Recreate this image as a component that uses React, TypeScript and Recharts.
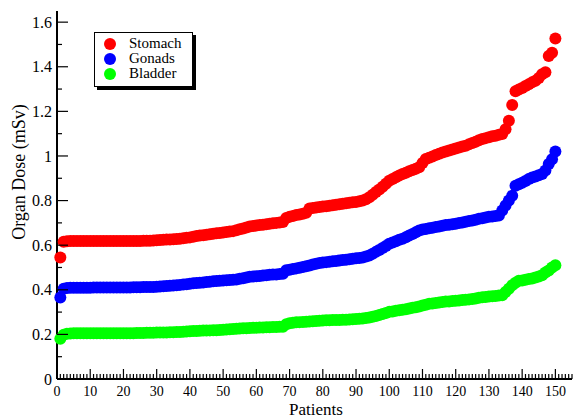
import React from 'react';
import { ScatterChart, Scatter, XAxis, YAxis, Label } from 'recharts';

// organ dose per patient (mSv), patients sorted by dose
const stomach = [
  0.545, 0.615, 0.618, 0.619, 0.619, 0.619, 0.619, 0.619, 0.619, 0.619,
  0.619, 0.619, 0.619, 0.619, 0.619, 0.619, 0.619, 0.619, 0.619, 0.619,
  0.619, 0.619, 0.619, 0.619, 0.619, 0.62, 0.62, 0.62, 0.621, 0.622,
  0.623, 0.624, 0.625, 0.626, 0.627, 0.628, 0.629, 0.631, 0.633, 0.635,
  0.638, 0.641, 0.643, 0.645, 0.647, 0.649, 0.651, 0.653, 0.655, 0.657,
  0.659, 0.661, 0.663, 0.667, 0.671, 0.675, 0.679, 0.684, 0.686, 0.688,
  0.69, 0.692, 0.694, 0.696, 0.698, 0.7, 0.702, 0.704, 0.722, 0.727,
  0.731, 0.735, 0.738, 0.741, 0.745, 0.764, 0.767, 0.769, 0.771, 0.773,
  0.775, 0.777, 0.779, 0.781, 0.783, 0.786, 0.788, 0.79, 0.792, 0.794,
  0.797, 0.8, 0.806, 0.815, 0.826, 0.838, 0.85, 0.862, 0.875, 0.889,
  0.897, 0.905, 0.912, 0.919, 0.925, 0.931, 0.937, 0.943, 0.949, 0.968,
  0.986, 0.992, 0.998, 1.004, 1.01, 1.016, 1.02, 1.025, 1.029, 1.033,
  1.038, 1.042, 1.046, 1.052, 1.058, 1.064, 1.07, 1.076, 1.08, 1.084,
  1.088, 1.091, 1.095, 1.098, 1.12, 1.158, 1.229, 1.29, 1.298, 1.305,
  1.314, 1.322, 1.33, 1.337, 1.35, 1.366, 1.375, 1.448, 1.463, 1.527,
];

const gonads = [
  0.365, 0.405, 0.408, 0.409, 0.409, 0.409, 0.409, 0.409, 0.409, 0.409,
  0.41, 0.41, 0.41, 0.41, 0.41, 0.41, 0.41, 0.41, 0.41, 0.41,
  0.41, 0.41, 0.411, 0.411, 0.411, 0.412, 0.412, 0.413, 0.413, 0.414,
  0.415, 0.416, 0.417, 0.418, 0.419, 0.42, 0.422, 0.424, 0.425, 0.427,
  0.429, 0.43, 0.432, 0.433, 0.435, 0.436, 0.438, 0.439, 0.441, 0.442,
  0.443, 0.444, 0.445, 0.446, 0.449, 0.452, 0.455, 0.458, 0.46, 0.461,
  0.462, 0.464, 0.465, 0.467, 0.468, 0.469, 0.471, 0.472, 0.488, 0.49,
  0.493, 0.496, 0.499, 0.502, 0.505, 0.509, 0.513, 0.517, 0.52, 0.522,
  0.524, 0.526, 0.528, 0.529, 0.531, 0.533, 0.535, 0.537, 0.539, 0.541,
  0.543, 0.545, 0.549, 0.554, 0.562, 0.57, 0.578, 0.587, 0.596, 0.606,
  0.612, 0.618, 0.624, 0.629, 0.636, 0.643, 0.65, 0.658, 0.666, 0.67,
  0.673, 0.676, 0.678, 0.681, 0.684, 0.687, 0.69, 0.692, 0.694, 0.696,
  0.699, 0.702, 0.705, 0.708, 0.711, 0.714, 0.718, 0.721, 0.724, 0.727,
  0.729, 0.731, 0.733, 0.755, 0.778, 0.8, 0.822, 0.867, 0.873, 0.88,
  0.888, 0.897, 0.903, 0.908, 0.914, 0.919, 0.935, 0.964, 0.985, 1.02,
];

const bladder = [
  0.18, 0.198, 0.203, 0.204, 0.205, 0.205, 0.205, 0.205, 0.205, 0.205,
  0.205, 0.205, 0.205, 0.205, 0.205, 0.205, 0.205, 0.205, 0.205, 0.205,
  0.205, 0.205, 0.205, 0.206, 0.206, 0.206, 0.207, 0.207, 0.207, 0.208,
  0.208, 0.209, 0.209, 0.21, 0.21, 0.211, 0.211, 0.212, 0.213, 0.214,
  0.215, 0.215, 0.216, 0.217, 0.217, 0.218, 0.219, 0.219, 0.22, 0.221,
  0.222, 0.223, 0.224, 0.225, 0.226, 0.227, 0.228, 0.229, 0.23, 0.23,
  0.231, 0.231, 0.232, 0.232, 0.233, 0.233, 0.234, 0.234, 0.245, 0.25,
  0.252, 0.254, 0.255, 0.256, 0.257, 0.258, 0.259, 0.26, 0.261, 0.262,
  0.263, 0.263, 0.264, 0.264, 0.265, 0.266, 0.266, 0.267, 0.268, 0.269,
  0.27, 0.271, 0.273, 0.276, 0.279, 0.283, 0.287, 0.291, 0.296, 0.301,
  0.303, 0.306, 0.308, 0.311, 0.313, 0.316, 0.319, 0.322, 0.325, 0.329,
  0.333, 0.337, 0.339, 0.341, 0.343, 0.345, 0.347, 0.348, 0.35, 0.351,
  0.352, 0.354, 0.355, 0.357, 0.359, 0.361, 0.364, 0.366, 0.368, 0.37,
  0.371, 0.372, 0.374, 0.376, 0.39, 0.405, 0.42, 0.432, 0.44, 0.442,
  0.445, 0.448, 0.451, 0.455, 0.46, 0.465, 0.478, 0.487, 0.5, 0.51,
];

const xTicks = Array.from({ length: 156 }, (_, i) => i);
const yTicks = [0, 0.1, 0.2, 0.3, 0.4, 0.5, 0.6, 0.7, 0.8, 0.9, 1, 1.1, 1.2, 1.3, 1.4, 1.5, 1.6];

const series = [
  { name: 'Stomach', values: stomach, color: '#ff0000' },
  { name: 'Gonads', values: gonads, color: '#0000ff' },
  { name: 'Bladder', values: bladder, color: '#00ff00' },
];

const FONT = 'Liberation Serif';

const toPoints = (values: number[]) => values.map((dose, i) => ({ patient: i + 1, dose }));

const XTick = (props: any) => {
  const { x, y, payload } = props;
  const v = payload.value;
  const major = v % 10 === 0;
  return (
    <g>
      <line x1={x} x2={x} y1={y} y2={y - (major ? 10 : 5)} stroke="#000" strokeWidth={1.2} />
      {major && (
        <text x={x} y={y + 17} textAnchor="middle" fontSize={14} fontFamily={FONT} fill="#000">
          {v}
        </text>
      )}
    </g>
  );
};

const YTick = (props: any) => {
  const { x, y, payload } = props;
  const v = payload.value;
  const major = Math.round(v * 10) % 2 === 0;
  return (
    <g>
      <line x1={x} x2={x + (major ? 11 : 5)} y1={y} y2={y} stroke="#000" strokeWidth={1.2} />
      {major && (
        <text x={x - 5} y={y} dy="0.35em" textAnchor="end" fontSize={16} fontFamily={FONT} fill="#000">
          {String(v)}
        </text>
      )}
    </g>
  );
};

const Dot = (color: string) => (props: any) => (
  <circle cx={props.cx} cy={props.cy} r={6} fill={color} />
);

export default function App() {
  return (
    <div style={{ position: 'absolute', left: 0, top: 0, width: 574, height: 419, background: '#fff' }}>
      <ScatterChart width={574} height={419} margin={{ top: 11, right: 2, left: 0, bottom: 0 }}>
        <XAxis
          type="number"
          dataKey="patient"
          domain={[0, 155]}
          ticks={xTicks}
          interval={0}
          tick={<XTick />}
          tickLine={false}
          tickSize={0}
          tickMargin={0}
          height={40}
          axisLine={{ stroke: '#000', strokeWidth: 2 }}
        >
          <Label
            content={() => (
              <text x={316} y={415} textAnchor="middle" fontSize={17} fontFamily={FONT} fill="#000">
                Patients
              </text>
            )}
          />
        </XAxis>
        <YAxis
          type="number"
          dataKey="dose"
          domain={[0, 1.65]}
          ticks={yTicks}
          interval={0}
          tick={<YTick />}
          tickLine={false}
          tickSize={0}
          tickMargin={0}
          width={57}
          axisLine={{ stroke: '#000', strokeWidth: 2 }}
        >
          <Label
            content={() => (
              <text
                x={19}
                y={172}
                transform="rotate(-90 19 172)"
                textAnchor="middle"
                dy="0.35em"
                fontSize={18}
                fontFamily={FONT}
                fill="#000"
              >
                Organ Dose (mSv)
              </text>
            )}
          />
        </YAxis>
        {series.map((s) => (
          <Scatter
            key={s.name}
            name={s.name}
            data={toPoints(s.values)}
            fill={s.color}
            shape={Dot(s.color)}
            isAnimationActive={false}
          />
        ))}
      </ScatterChart>
      <div
        style={{
          position: 'absolute',
          left: 94,
          top: 32,
          width: 97,
          height: 53,
          border: '1px solid #000',
          boxShadow: '3px 3px 0 #000',
          background: '#fff',
          fontFamily: FONT,
          fontSize: 15,
        }}
      >
        {series.map((s, i) => (
          <div
            key={s.name}
            style={{ position: 'absolute', left: 0, top: 3 + i * 15, height: 15, display: 'flex', alignItems: 'center' }}
          >
            <span
              style={{
                display: 'inline-block',
                width: 12,
                height: 12,
                borderRadius: 6,
                background: s.color,
                marginLeft: 9,
                marginRight: 13,
              }}
            />
            <span style={{ lineHeight: '15px' }}>{s.name}</span>
          </div>
        ))}
      </div>
    </div>
  );
}
